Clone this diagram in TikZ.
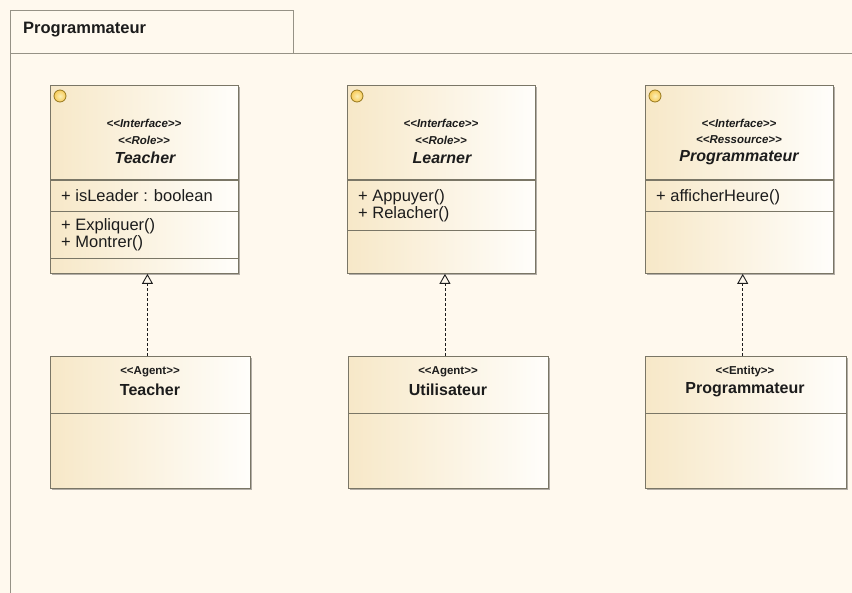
\documentclass[tikz,border=0pt]{standalone}
\usepackage{fontspec}
\setmainfont{Liberation Sans}
\usetikzlibrary{arrows.meta,shadows,calc}
\definecolor{paper}{RGB}{255,249,238}
\definecolor{frameline}{RGB}{150,146,134}
\definecolor{edge}{RGB}{122,118,102}
\definecolor{boxtan}{RGB}{247,232,200}
\definecolor{boxpale}{RGB}{255,254,251}
\definecolor{ink}{RGB}{28,28,28}
\definecolor{bulb}{RGB}{246,222,110}
\definecolor{bulbedge}{RGB}{150,120,30}
% stereotype brackets, kept as two separate characters
\newcommand{\stL}{<\kern0pt<}
\newcommand{\stR}{>\kern0pt>}

\begin{document}
\begin{tikzpicture}[x=1pt,y=-1pt,
  classbox/.style={draw=edge, line width=0.9pt, left color=boxtan, right color=boxpale,
    anchor=north west, inner sep=0pt, minimum width=#1,
    drop shadow={shadow xshift=1.6pt, shadow yshift=-1.6pt, fill=black, opacity=0.3}},
  stereo/.style={font=\fontsize{11.5}{13}\selectfont\bfseries\itshape, text=ink, inner sep=0pt},
  stereoup/.style={font=\fontsize{11.5}{13}\selectfont\bfseries, text=ink, inner sep=0pt},
  iname/.style={font=\fontsize{16}{19}\selectfont\bfseries\itshape, text=ink, inner sep=0pt},
  cname/.style={font=\fontsize{16}{19}\selectfont\bfseries, text=ink, inner sep=0pt},
  member/.style={font=\fontsize{16.5}{19}\selectfont, text=ink, anchor=west, inner sep=0pt},
  sepline/.style={draw=edge, line width=0.9pt},
  dblsep/.style={draw=edge, line width=2pt},
  realize/.style={draw=ink, line width=0.9pt, dash pattern=on 3pt off 2pt,
    -{Triangle[open, width=11pt, length=10pt, fill=paper]}},
  bulbicon/.style={circle, inner sep=0pt, minimum size=12pt, draw=bulbedge, line width=0.8pt,
    inner color=bulb!50!white, outer color=bulb!80!orange}
]
\useasboundingbox (0,0) rectangle (852,593);
\fill[paper] (0,0) rectangle (852,593);

% package frame with its tab
\draw[frameline, line width=0.9pt] (10,593) -- (10,10) -- (293,10) -- (293,53);
\draw[frameline, line width=0.9pt] (10,53) -- (852,53);
\node[anchor=west, inner sep=0pt, font=\fontsize{16.5}{19}\selectfont\bfseries, text=ink] (pkg) at (23,30) {Programmateur};

% ---- interface Teacher ----
\node[classbox=188pt, minimum height=188pt] (tI) at (50,85) {};
\node[bulbicon] (tIb) at (60,96) {};
\node[stereo] (tIs1) at (144,123) {\stL Interface\stR};
\node[stereo] (tIs2) at (144,140) {\stL Role\stR};
\node[iname] (tIn) at (145,158) {Teacher};
\draw[dblsep] (50,180) -- (238,180);
\node[member] (tIa) at (61,196) {+ isLeader : boolean};
\draw[sepline] (50,211) -- (238,211);
\node[member] (tIo1) at (61,226) {+ Expliquer()};
\node[member] (tIo2) at (61,243) {+ Montrer()};
\draw[sepline] (50,258) -- (238,258);

% ---- interface Learner ----
\node[classbox=188pt, minimum height=188pt] (lI) at (347,85) {};
\node[bulbicon] (lIb) at (357,96) {};
\node[stereo] (lIs1) at (441,123) {\stL Interface\stR};
\node[stereo] (lIs2) at (441,140) {\stL Role\stR};
\node[iname] (lIn) at (442,158) {Learner};
\draw[dblsep] (347,180) -- (535,180);
\node[member] (lIo1) at (358,197) {+ Appuyer()};
\node[member] (lIo2) at (358,214) {+ Relacher()};
\draw[sepline] (347,230) -- (535,230);

% ---- interface Programmateur ----
\node[classbox=188pt, minimum height=188pt] (pI) at (645,85) {};
\node[bulbicon] (pIb) at (655,96) {};
\node[stereo] (pIs1) at (739,123) {\stL Interface\stR};
\node[stereo] (pIs2) at (739,140) {\stL Ressource\stR};
\node[iname] (pIn) at (739,158) {Programmateur};
\draw[dblsep] (645,180) -- (833,180);
\node[member] (pIo1) at (656,197) {+ afficherHeure()};
\draw[sepline] (645,211) -- (833,211);

% ---- agent Teacher ----
\node[classbox=200pt, minimum height=132pt] (tA) at (50,356) {};
\node[stereoup] (tAs) at (150,372) {\stL Agent\stR};
\node[cname] (tAn) at (150,390) {Teacher};
\draw[sepline] (50,413) -- (250,413);

% ---- agent Utilisateur ----
\node[classbox=200pt, minimum height=132pt] (uA) at (348,356) {};
\node[stereoup] (uAs) at (448,372) {\stL Agent\stR};
\node[cname] (uAn) at (448,390) {Utilisateur};
\draw[sepline] (348,413) -- (548,413);

% ---- entity Programmateur ----
\node[classbox=201pt, minimum height=132pt] (pE) at (645,356) {};
\node[stereoup] (pEs) at (745,372) {\stL Entity\stR};
\node[cname] (pEn) at (745,390) {Programmateur};
\draw[sepline] (645,413) -- (846,413);

% ---- realizations ----
\coordinate (tm) at ($(tI.south)!.5!(tA.north)$);
\coordinate (lm) at ($(lI.south)!.5!(uA.north)$);
\coordinate (pm) at ($(pI.south)!.5!(pE.north)$);
\draw[realize] (tm |- tA.north) -- (tm |- tI.south);
\draw[realize] (lm |- uA.north) -- (lm |- lI.south);
\draw[realize] (pm |- pE.north) -- (pm |- pI.south);
\end{tikzpicture}
\end{document}
